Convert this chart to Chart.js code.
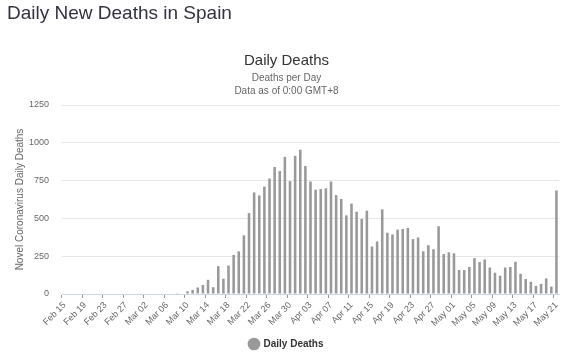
<!DOCTYPE html>
<html>
<head>
<meta charset="utf-8">
<script src="https://cdn.jsdelivr.net/npm/chart.js@4/dist/chart.umd.min.js"></script>
<style>
  html, body { margin: 0; padding: 0; background: #fff; }
  #wrap { position: relative; width: 568px; height: 357px; overflow: hidden; }
  #pageTitle { position: absolute; left: 7px; top: 1px; margin: 0; font: 19px "Liberation Sans", Arial, sans-serif; line-height: 24px; color: #333340; font-weight: normal; }
  canvas { position: absolute; left: 0; top: 0; }
</style>
</head>
<body>
<div id="wrap">
  <canvas id="c" width="568" height="357"></canvas>
  <h1 id="pageTitle">Daily New Deaths in Spain</h1>
</div>
<script>
const pageTitle = "Daily New Deaths in Spain";
const chartTitle = "Daily Deaths";
const subtitleLines = ["Deaths per Day", "Data as of 0:00 GMT+8"];
const yAxisTitle = "Novel Coronavirus Daily Deaths";
const seriesName = "Daily Deaths";

const categories = [
  "Feb 15","Feb 16","Feb 17","Feb 18","Feb 19","Feb 20","Feb 21","Feb 22","Feb 23","Feb 24","Feb 25","Feb 26","Feb 27","Feb 28","Feb 29",
  "Mar 01","Mar 02","Mar 03","Mar 04","Mar 05","Mar 06","Mar 07","Mar 08","Mar 09","Mar 10","Mar 11","Mar 12","Mar 13","Mar 14","Mar 15",
  "Mar 16","Mar 17","Mar 18","Mar 19","Mar 20","Mar 21","Mar 22","Mar 23","Mar 24","Mar 25","Mar 26","Mar 27","Mar 28","Mar 29","Mar 30","Mar 31",
  "Apr 01","Apr 02","Apr 03","Apr 04","Apr 05","Apr 06","Apr 07","Apr 08","Apr 09","Apr 10","Apr 11","Apr 12","Apr 13","Apr 14","Apr 15",
  "Apr 16","Apr 17","Apr 18","Apr 19","Apr 20","Apr 21","Apr 22","Apr 23","Apr 24","Apr 25","Apr 26","Apr 27","Apr 28","Apr 29","Apr 30",
  "May 01","May 02","May 03","May 04","May 05","May 06","May 07","May 08","May 09","May 10","May 11","May 12","May 13","May 14","May 15",
  "May 16","May 17","May 18","May 19","May 20","May 21"
];

const dailyDeaths = [
  0,0,0,0,0,0,0,0,0,0,0,0,0,0,0,
  0,0,0,0,0,0,0,5,0,18,27,43,60,94,45,
  184,101,188,258,282,388,535,672,652,710,764,840,813,907,746,914,
  954,847,744,690,694,699,744,654,629,520,598,544,497,551,314,
  347,560,405,394,426,430,437,363,374,282,323,296,448,264,276,
  269,159,159,179,237,211,228,175,141,121,175,179,213,134,99,
  81,54,67,103,49,685
];

const yTicks = [0, 250, 500, 750, 1000, 1250];
const labelEvery = 4;

const font = '"Liberation Sans", Arial, sans-serif';

new Chart(document.getElementById('c'), {
  type: 'bar',
  data: {
    labels: categories,
    datasets: [{
      label: seriesName,
      data: dailyDeaths,
      backgroundColor: '#999999',
      borderWidth: 0,
      barPercentage: 0.5,
      categoryPercentage: 1.0
    }]
  },
  options: {
    responsive: false,
    animation: false,
    layout: { padding: { top: 40, left: 14, right: 9, bottom: -2 } },
    plugins: {
      title: {
        display: true,
        text: chartTitle,
        color: '#333333',
        font: { family: font, size: 15, weight: 'normal' },
        padding: { top: 12, bottom: 0 }
      },
      subtitle: {
        display: true,
        text: subtitleLines,
        color: '#666666',
        font: { family: font, size: 10, weight: 'normal', lineHeight: 1.3 },
        padding: { top: 2, bottom: 7 }
      },
      legend: {
        position: 'bottom',
        labels: {
          usePointStyle: true,
          pointStyle: 'circle',
          boxWidth: 9,
          boxHeight: 9,
          color: '#333333',
          font: { family: font, size: 10, weight: 'bold' },
          padding: 6
        }
      },
      tooltip: { enabled: false }
    },
    scales: {
      x: {
        offset: true,
        afterFit: (axis) => { axis.height = 39; axis.paddingLeft = 0; axis.paddingRight = 0; },
        grid: {
          display: true,
          drawOnChartArea: false,
          drawTicks: true,
          tickLength: 4,
          offset: true,
          tickColor: (ctx) => (ctx.index % labelEvery === 0 ? '#999999' : 'rgba(0,0,0,0)')
        },
        border: { display: true, color: '#ccd6eb', width: 1 },
        ticks: {
          autoSkip: false,
          maxRotation: 45,
          minRotation: 45,
          color: '#666666',
          font: { family: font, size: 9 },
          padding: 2,
          callback: function (value, index) {
            return index % labelEvery === 0 ? categories[index] : '';
          }
        }
      },
      y: {
        min: 0,
        max: 1250,
        afterFit: (axis) => { axis.width = 48; },
        afterBuildTicks: (axis) => { axis.ticks = yTicks.map(v => ({ value: v })); },
        grid: { color: '#e6e6e6', drawTicks: false },
        border: { display: false },
        ticks: {
          color: '#666666',
          font: { family: font, size: 9 },
          padding: 13,
          callback: (v) => String(v)
        },
        title: {
          display: true,
          text: yAxisTitle,
          color: '#666666',
          font: { family: font, size: 10 },
          padding: { top: 0, bottom: 4 }
        }
      }
    }
  }
});
</script>
</body>
</html>
